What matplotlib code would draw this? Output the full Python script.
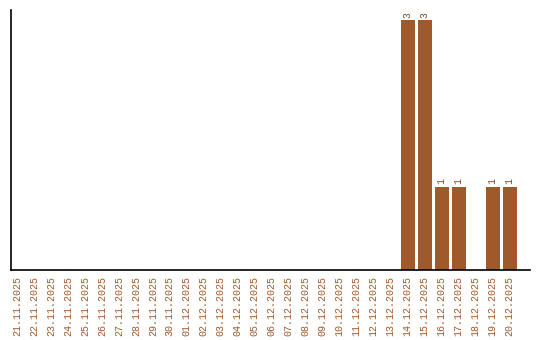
import matplotlib
matplotlib.use("Agg")
import matplotlib.pyplot as plt

dates = ["21.11.2025", "22.11.2025", "23.11.2025", "24.11.2025", "25.11.2025",
         "26.11.2025", "27.11.2025", "28.11.2025", "29.11.2025", "30.11.2025",
         "01.12.2025", "02.12.2025", "03.12.2025", "04.12.2025", "05.12.2025",
         "06.12.2025", "07.12.2025", "08.12.2025", "09.12.2025", "10.12.2025",
         "11.12.2025", "12.12.2025", "13.12.2025", "14.12.2025", "15.12.2025",
         "16.12.2025", "17.12.2025", "18.12.2025", "19.12.2025", "20.12.2025"]
counts = [0] * 23 + [3, 3, 1, 1, 0, 1, 1]

color = "#a0592a"
fig = plt.figure(figsize=(5.4, 3.4), dpi=100)
ax = fig.add_axes([11/540, 70/340, 519/540, 260/340])
x = list(range(len(dates)))
bars = ax.bar(x, counts, width=0.82, color=color)
for xi, c in zip(x, counts):
    if c > 0:
        ax.text(xi, c + 0.03, str(c), rotation=90, ha="center", va="bottom",
                fontsize=7, color="#7a4a2a", family="Liberation Mono")
ax.set_xlim(-0.35, 30.2)
ax.set_ylim(0, 3.12)
ax.set_xticks(x)
ax.set_xticklabels(dates, rotation=90, fontsize=7.2, color=color, family="Liberation Mono")
ax.tick_params(axis="x", length=0, pad=4.5)
ax.set_yticks([])
ax.spines["top"].set_visible(False)
ax.spines["right"].set_visible(False)
for s in ("left", "bottom"):
    ax.spines[s].set_linewidth(1.2)
fig.savefig("out.png", dpi=100)
